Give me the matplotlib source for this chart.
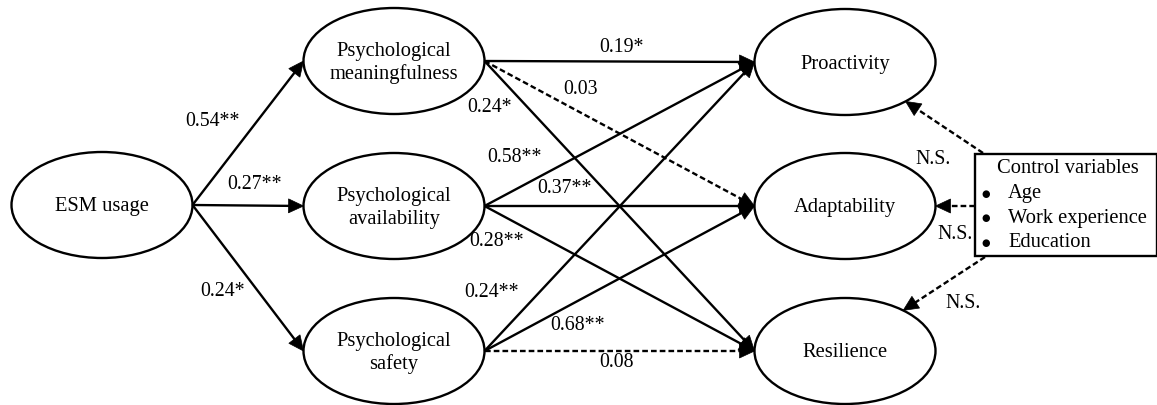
"""
Path diagram: ESM usage -> psychological conditions -> work outcomes.
Writes out.png (1157x406).
"""

import numpy as np
import matplotlib.pyplot as plt
from matplotlib.patches import Ellipse, Rectangle, Polygon

# ---- data -------------------------------------------------------------
nodes = [
    "ESM usage",
    "Psychological\nmeaningfulness",
    "Psychological\navailability",
    "Psychological\nsafety",
    "Proactivity",
    "Adaptability",
    "Resilience",
]
path_src = [0, 0, 0, 1, 1, 1, 2, 2, 2, 3, 3, 3]
path_dst = [1, 2, 3, 4, 5, 6, 4, 5, 6, 4, 5, 6]
path_coef = ["0.54**", "0.27**", "0.24*",
             "0.19*", "0.03", "0.24*",
             "0.58**", "0.37**", "0.28**",
             "0.24**", "0.68**", "0.08"]
path_sig = [True, True, True,
            True, False, True,
            True, True, True,
            True, True, False]

control_title = "Control variables"
control_items = ["Age", "Work experience", "Education"]
control_dst = [4, 5, 6]
control_coef = ["N.S.", "N.S.", "N.S."]

# ---- layout (pixels, origin top-left) ----------------------------------
W, H = 1157, 406
node_xy = [(102, 206), (394, 62), (394, 207), (394, 352),
           (845, 63), (845, 207), (845, 352)]
ELL_W, ELL_H = 181, 106
coef_xy = [(213, 122), (255, 185), (223, 292),
           (622, 47), (580, 90), (490, 108),
           (515, 158), (565, 189), (497, 242),
           (492, 293), (578, 326), (617, 363)]
box = (975, 155, 182, 102)          # x, y, w, h
control_start = [(983, 154), (975, 207), (985, 258)]
control_angle = [48, 0, -50]        # where the arrow hits the outcome ellipse
control_coef_xy = [(933, 160), (955, 235), (963, 304)]

FONT = "Liberation Serif"
LW = 1.7


def draw_arrow(ax, p0, p1, dashed=False, head_len=15, head_hw=7):
    p0 = np.asarray(p0, float)
    p1 = np.asarray(p1, float)
    u = (p1 - p0) / np.hypot(*(p1 - p0))
    n = np.array([-u[1], u[0]])
    base = p1 - u * head_len
    ls = (0, (2.4, 1.3)) if dashed else "-"
    ax.plot([p0[0], base[0] + u[0]], [p0[1], base[1] + u[1]], color="black",
            lw=LW, linestyle=ls, solid_capstyle="butt", dash_capstyle="butt")
    ax.add_patch(Polygon([p1, base + n * head_hw, base - n * head_hw],
                         closed=True, fc="black", ec="black", lw=0.5))


def main():
    fig = plt.figure(figsize=(W / 100, H / 100), dpi=100)
    ax = fig.add_axes([0, 0, 1, 1])
    ax.set_xlim(0, W)
    ax.set_ylim(H, 0)
    ax.axis("off")

    # ellipses + names
    for name, (cx, cy) in zip(nodes, node_xy):
        ax.add_patch(Ellipse((cx, cy), ELL_W, ELL_H, fc="white", ec="black", lw=LW))
        ax.text(cx, cy + 1, name, ha="center", va="center", fontsize=14.8,
                family=FONT, linespacing=1.22)

    # structural paths
    for s, d, c, sig, (lx, ly) in zip(path_src, path_dst, path_coef, path_sig, coef_xy):
        p0 = (node_xy[s][0] + ELL_W / 2, node_xy[s][1])
        p1 = (node_xy[d][0] - ELL_W / 2, node_xy[d][1])
        draw_arrow(ax, p0, p1, dashed=not sig)
        ax.text(lx, ly, c, ha="center", va="center", fontsize=14.3, family=FONT)

    # control variable box
    bx, by, bw, bh = box
    ax.add_patch(Rectangle((bx, by), bw, bh, fc="white", ec="black", lw=LW))
    ax.text(1068, 169, control_title, ha="center", va="center", fontsize=14.8, family=FONT)
    for i, item in enumerate(control_items):
        yy = 194 + i * 24.5
        ax.text(986, yy, "\u25CF", ha="center", va="center", fontsize=7, family="DejaVu Sans")
        ax.text(1008, yy, item, ha="left", va="center", fontsize=14.8, family=FONT)

    # control paths (all n.s.)
    for st, d, ang, c, (lx, ly) in zip(control_start, control_dst, control_angle,
                                       control_coef, control_coef_xy):
        cx, cy = node_xy[d]
        t = np.deg2rad(ang)
        tip = (cx + ELL_W / 2 * np.cos(t), cy + ELL_H / 2 * np.sin(t))
        draw_arrow(ax, st, tip, dashed=True)
        ax.text(lx, ly, c, ha="center", va="center", fontsize=14.3, family=FONT)

    fig.savefig("out.png", dpi=100)
    plt.close(fig)


if __name__ == "__main__":
    main()
